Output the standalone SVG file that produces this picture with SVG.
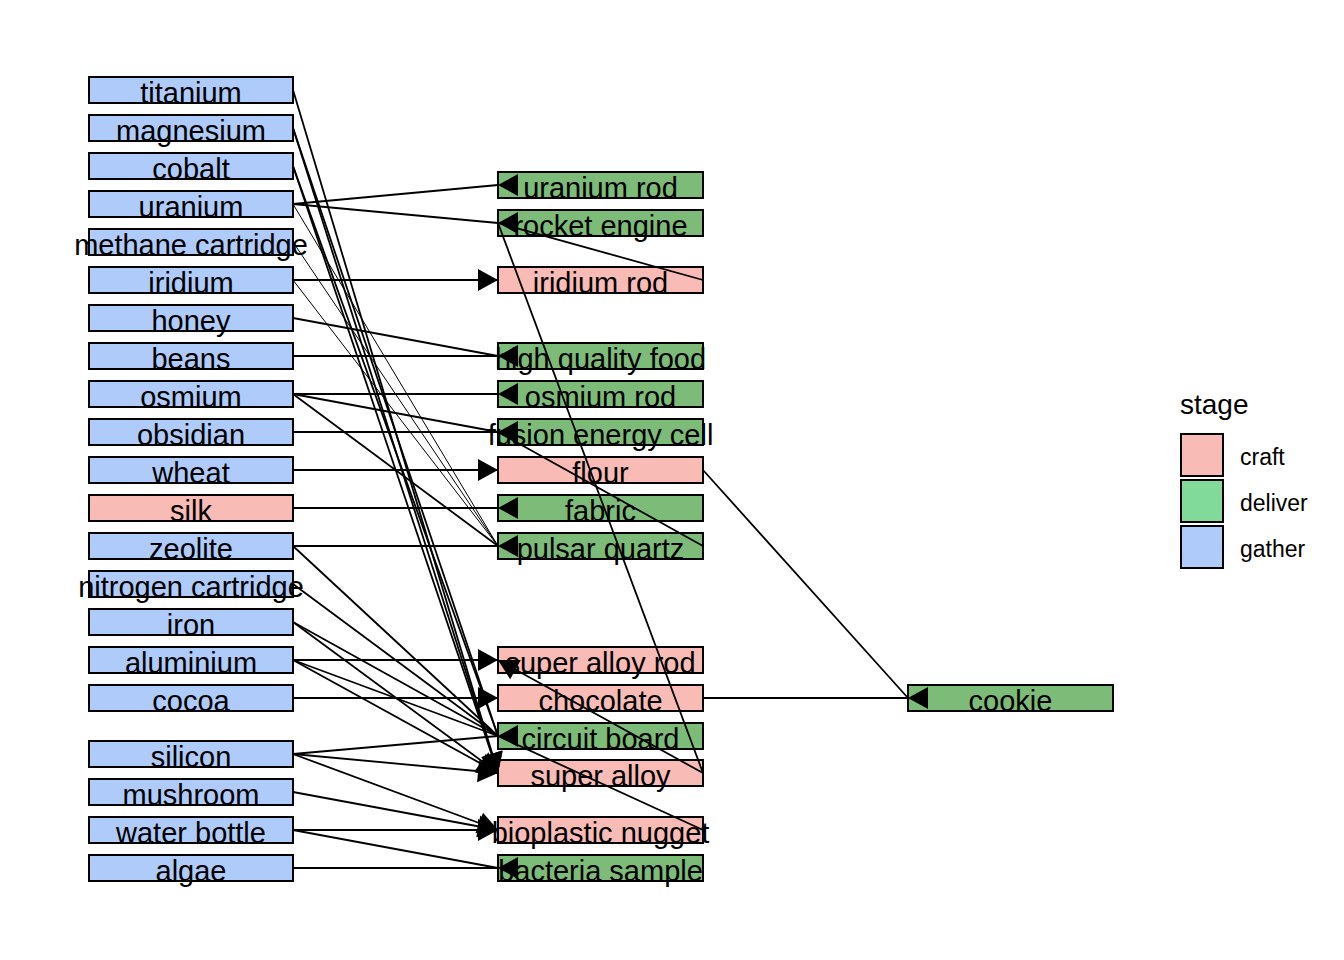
<svg xmlns="http://www.w3.org/2000/svg" width="1344" height="960" viewBox="0 0 1344 960">
<style>
.b{stroke:#000;stroke-width:2}
.g{fill:#AECBFA}
.p{fill:#F8BBB6}
.d{fill:#7DBB78}
.n{font-family:"Liberation Sans",Arial,sans-serif;font-size:29px;fill:#000;text-anchor:middle}
.e{stroke:#000;stroke-width:1.8;fill:none}
.t{stroke:#000;stroke-width:1;fill:none}
.a{fill:#000;stroke:none}
.lt{font-family:"Liberation Sans",Arial,sans-serif;font-size:28px;fill:#000}
.ll{font-family:"Liberation Sans",Arial,sans-serif;font-size:23px;fill:#000}
</style>
<rect width="1344" height="960" fill="#fff"/>
<g id="nodes">
<g id="n-titanium"><rect class="b g" x="89" y="77" width="204" height="26"/><text class="n" x="191" y="103">titanium</text></g>
<g id="n-magnesium"><rect class="b g" x="89" y="115" width="204" height="26"/><text class="n" x="191" y="141">magnesium</text></g>
<g id="n-cobalt"><rect class="b g" x="89" y="153" width="204" height="26"/><text class="n" x="191" y="179">cobalt</text></g>
<g id="n-uranium"><rect class="b g" x="89" y="191" width="204" height="26"/><text class="n" x="191" y="217">uranium</text></g>
<g id="n-methane"><rect class="b g" x="89" y="229" width="204" height="26"/><text class="n" x="191" y="255">methane cartridge</text></g>
<g id="n-iridium"><rect class="b g" x="89" y="267" width="204" height="26"/><text class="n" x="191" y="293">iridium</text></g>
<g id="n-honey"><rect class="b g" x="89" y="305" width="204" height="26"/><text class="n" x="191" y="331">honey</text></g>
<g id="n-beans"><rect class="b g" x="89" y="343" width="204" height="26"/><text class="n" x="191" y="369">beans</text></g>
<g id="n-osmium"><rect class="b g" x="89" y="381" width="204" height="26"/><text class="n" x="191" y="407">osmium</text></g>
<g id="n-obsidian"><rect class="b g" x="89" y="419" width="204" height="26"/><text class="n" x="191" y="445">obsidian</text></g>
<g id="n-wheat"><rect class="b g" x="89" y="457" width="204" height="26"/><text class="n" x="191" y="483">wheat</text></g>
<g id="n-silk"><rect class="b p" x="89" y="495" width="204" height="26"/><text class="n" x="191" y="521">silk</text></g>
<g id="n-zeolite"><rect class="b g" x="89" y="533" width="204" height="26"/><text class="n" x="191" y="559">zeolite</text></g>
<g id="n-nitrogen"><rect class="b g" x="89" y="571" width="204" height="26"/><text class="n" x="191" y="597">nitrogen cartridge</text></g>
<g id="n-iron"><rect class="b g" x="89" y="609" width="204" height="26"/><text class="n" x="191" y="635">iron</text></g>
<g id="n-aluminium"><rect class="b g" x="89" y="647" width="204" height="26"/><text class="n" x="191" y="673">aluminium</text></g>
<g id="n-cocoa"><rect class="b g" x="89" y="685" width="204" height="26"/><text class="n" x="191" y="711">cocoa</text></g>
<g id="n-silicon"><rect class="b g" x="89" y="741" width="204" height="26"/><text class="n" x="191" y="767">silicon</text></g>
<g id="n-mushroom"><rect class="b g" x="89" y="779" width="204" height="26"/><text class="n" x="191" y="805">mushroom</text></g>
<g id="n-water"><rect class="b g" x="89" y="817" width="204" height="26"/><text class="n" x="191" y="843">water bottle</text></g>
<g id="n-algae"><rect class="b g" x="89" y="855" width="204" height="26"/><text class="n" x="191" y="881">algae</text></g>

<g id="n-uraniumrod"><rect class="b d" x="498" y="172" width="205" height="26"/><text class="n" x="600.5" y="198">uranium rod</text></g>
<g id="n-rocket"><rect class="b d" x="498" y="210" width="205" height="26"/><text class="n" x="600.5" y="236">rocket engine</text></g>
<g id="n-iridiumrod"><rect class="b p" x="498" y="267" width="205" height="26"/><text class="n" x="600.5" y="293">iridium rod</text></g>
<g id="n-hqfood"><rect class="b d" x="498" y="343" width="205" height="26"/><text class="n" x="600.5" y="369">high quality food</text></g>
<g id="n-osmiumrod"><rect class="b d" x="498" y="381" width="205" height="26"/><text class="n" x="600.5" y="407">osmium rod</text></g>
<g id="n-fusion"><rect class="b d" x="498" y="419" width="205" height="26"/><text class="n" x="600.5" y="445">fusion energy cell</text></g>
<g id="n-flour"><rect class="b p" x="498" y="457" width="205" height="26"/><text class="n" x="600.5" y="483">flour</text></g>
<g id="n-fabric"><rect class="b d" x="498" y="495" width="205" height="26"/><text class="n" x="600.5" y="521">fabric</text></g>
<g id="n-pulsar"><rect class="b d" x="498" y="533" width="205" height="26"/><text class="n" x="600.5" y="559">pulsar quartz</text></g>
<g id="n-superalloyrod"><rect class="b p" x="498" y="647" width="205" height="26"/><text class="n" x="600.5" y="673">super alloy rod</text></g>
<g id="n-chocolate"><rect class="b p" x="498" y="685" width="205" height="26"/><text class="n" x="600.5" y="711">chocolate</text></g>
<g id="n-circuit"><rect class="b d" x="498" y="723" width="205" height="26"/><text class="n" x="600.5" y="749">circuit board</text></g>
<g id="n-superalloy"><rect class="b p" x="498" y="760" width="205" height="26"/><text class="n" x="600.5" y="786">super alloy</text></g>
<g id="n-bioplastic"><rect class="b p" x="498" y="817" width="205" height="26"/><text class="n" x="600.5" y="843">bioplastic nugget</text></g>
<g id="n-bacteria"><rect class="b d" x="498" y="855" width="205" height="26"/><text class="n" x="600.5" y="881">bacteria sample</text></g>

<g id="n-cookie"><rect class="b d" x="908" y="685" width="205" height="26"/><text class="n" x="1010.5" y="711">cookie</text></g>
</g>

<g id="connectors">
<line class="e" x1="293" y1="204" x2="498" y2="185"/>
<line class="e" x1="293" y1="204" x2="498" y2="223"/>
<line class="e" x1="293" y1="280" x2="498" y2="280"/>
<line class="e" x1="293" y1="318" x2="498" y2="356"/>
<line class="e" x1="293" y1="356" x2="498" y2="356"/>
<line class="e" x1="293" y1="394" x2="498" y2="394"/>
<line class="e" x1="293" y1="394" x2="498" y2="432"/>
<line class="e" x1="293" y1="394" x2="498" y2="546"/>
<line class="e" x1="293" y1="432" x2="498" y2="432"/>
<line class="e" x1="293" y1="470" x2="498" y2="470"/>
<line class="e" x1="293" y1="508" x2="498" y2="508"/>
<line class="e" x1="293" y1="546" x2="498" y2="546"/>
<line class="t" x1="293" y1="204" x2="498" y2="546"/>
<line class="t" x1="293" y1="242" x2="498" y2="546"/>
<line class="t" x1="293" y1="280" x2="498" y2="546"/>
<line class="e" x1="293" y1="90" x2="498" y2="773"/>
<line class="e" x1="293" y1="128" x2="498" y2="773"/>
<line class="e" x1="293" y1="166" x2="498" y2="773"/>
<line class="e" x1="293" y1="128" x2="498" y2="736"/>
<line class="e" x1="293" y1="166" x2="498" y2="736"/>
<line class="e" x1="293" y1="546" x2="498" y2="736"/>
<line class="e" x1="293" y1="584" x2="498" y2="736"/>
<line class="e" x1="293" y1="622" x2="498" y2="736"/>
<line class="e" x1="293" y1="622" x2="498" y2="773"/>
<line class="e" x1="293" y1="660" x2="498" y2="660"/>
<line class="e" x1="293" y1="660" x2="498" y2="736"/>
<line class="e" x1="293" y1="660" x2="498" y2="773"/>
<line class="e" x1="293" y1="698" x2="498" y2="698"/>
<line class="e" x1="293" y1="754" x2="498" y2="736"/>
<line class="e" x1="293" y1="754" x2="498" y2="773"/>
<line class="e" x1="293" y1="754" x2="498" y2="830"/>
<line class="e" x1="293" y1="792" x2="498" y2="830"/>
<line class="e" x1="293" y1="830" x2="498" y2="830"/>
<line class="e" x1="293" y1="830" x2="498" y2="868"/>
<line class="e" x1="293" y1="868" x2="498" y2="868"/>
<line class="e" x1="703" y1="280" x2="498" y2="223"/>
<line class="e" x1="703" y1="773" x2="498" y2="223"/>
<line class="e" x1="703" y1="773" x2="498" y2="660"/>
<line class="e" x1="703" y1="546" x2="498" y2="432"/>
<line class="e" x1="703" y1="830" x2="498" y2="736"/>
<line class="e" x1="703" y1="470" x2="908" y2="698"/>
<line class="e" x1="703" y1="698" x2="908" y2="698"/>
<polygon class="a" points="498,280 478,269 478,291"/>
<polygon class="a" points="498,470 478,459 478,481"/>
<polygon class="a" points="498,660 478,649 478,671"/>
<polygon class="a" points="498,698 478,687 478,709"/>
<polygon class="a" points="498,830 478,819 478,841"/>
<polygon class="a" points="498,660 520.8,660 510.2,679.3"/>
<polygon class="a" points="498,773 481.7,757 502.8,750.7"/>
<polygon class="a" points="498,773 481.5,757.3 502.4,750.6"/>
<polygon class="a" points="498,773 481.2,757.6 502,750.5"/>
<polygon class="a" points="498,773 475.4,770 488.4,752.2"/>
<polygon class="a" points="498,773 475.2,772.9 485.8,753.7"/>
<polygon class="a" points="498,773 477.1,782.2 479.1,760.3"/>
<polygon class="a" points="498,830 475.4,833.3 483,812.7"/>
<polygon class="a" points="498,830 476.3,837.2 480.3,815.6"/>
<polygon class="a" points="498,185 518,174 518,196"/>
<polygon class="a" points="498,223 518,212 518,234"/>
<polygon class="a" points="498,356 518,345 518,367"/>
<polygon class="a" points="498,394 518,383 518,405"/>
<polygon class="a" points="498,432 518,421 518,443"/>
<polygon class="a" points="498,508 518,497 518,519"/>
<polygon class="a" points="498,546 518,535 518,557"/>
<polygon class="a" points="498,736 518,725 518,747"/>
<polygon class="a" points="498,868 518,857 518,879"/>
<polygon class="a" points="908,698 928,687 928,709"/>
</g>

<g id="legend">
<text class="lt" x="1180" y="414">stage</text>
<rect class="b" x="1181" y="434" width="42" height="42" fill="#F8BBB6"/>
<rect class="b" x="1181" y="480" width="42" height="42" fill="#82DA9A"/>
<rect class="b" x="1181" y="526" width="42" height="42" fill="#AECBFA"/>
<text class="ll" x="1240" y="465">craft</text>
<text class="ll" x="1240" y="511">deliver</text>
<text class="ll" x="1240" y="557">gather</text>
</g>
</svg>
